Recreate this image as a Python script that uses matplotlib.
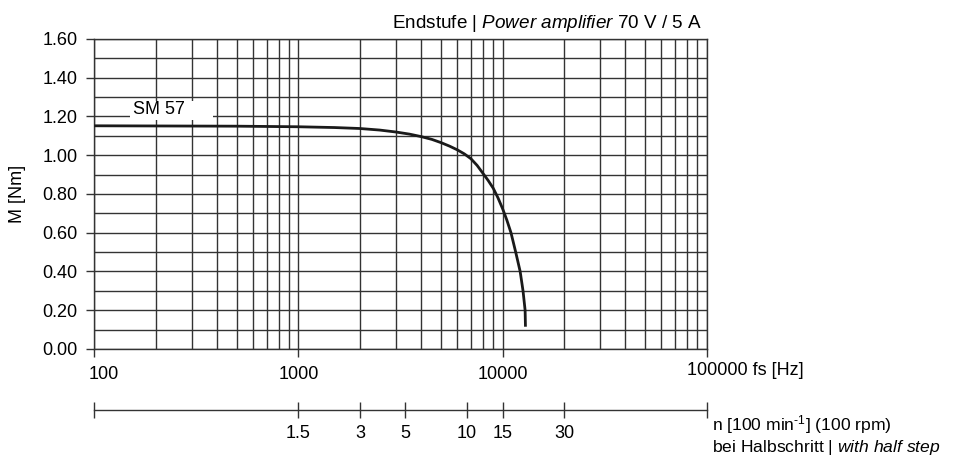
import matplotlib
matplotlib.use("Agg")
import matplotlib.pyplot as plt
import matplotlib.transforms as mtransforms
from matplotlib.patches import Rectangle

plt.rcParams['font.family'] = ['Liberation Sans', 'DejaVu Sans']
plt.rcParams['mathtext.fontset'] = 'custom'
plt.rcParams['mathtext.rm'] = 'Liberation Sans'
plt.rcParams['mathtext.it'] = 'Liberation Sans:italic'

# torque curve SM 57
fs = [100, 500, 1000, 1500, 2000, 2500, 3000, 3500, 4000, 4500, 5000, 5500,
      6000, 6500, 7000, 7500, 8000, 8500, 9000, 9500, 10000, 10500,
      11000, 11600, 12200, 12600, 12900, 12950]
torque = [1.152, 1.150, 1.147, 1.143, 1.138, 1.130, 1.120, 1.109, 1.096, 1.082,
          1.065, 1.047, 1.028, 1.007, 0.982, 0.948, 0.908, 0.870, 0.830, 0.780,
          0.725, 0.665, 0.600, 0.500, 0.400, 0.300, 0.200, 0.115]

x_ticks = [100, 1000, 10000, 100000]
x_labels = ['100', '1000', '10000', '']
y_ticks = [0.0, 0.2, 0.4, 0.6, 0.8, 1.0, 1.2, 1.4, 1.6]
rpm_ticks = [1.5, 3, 5, 10, 15, 30]
rpm_per_hz = 0.0015   # 100 rpm units per Hz at half step

grid_col = '#333333'
fsize = 13

fig = plt.figure(figsize=(9.65, 4.62), dpi=100)
ax = fig.add_axes([0.0977, 0.2446, 0.6346, 0.6710])

ax.set_xscale('log')
ax.set_xlim(100, 100000)
ax.set_ylim(0, 1.6)

ax.set_xticks(x_ticks)
ax.set_xticklabels(x_labels)
ax.set_yticks(y_ticks)
ax.set_yticklabels([f'{v:.2f}' for v in y_ticks])
ax.set_yticks([0.1, 0.3, 0.5, 0.7, 0.9, 1.1, 1.3, 1.5], minor=True)

ax.grid(True, which='both', color=grid_col, linewidth=1.0)
ax.tick_params(which='major', direction='out', length=6, width=1,
               color=grid_col, labelsize=fsize, pad=6)
ax.tick_params(which='minor', length=0)
for s in ax.spines.values():
    s.set_color(grid_col)
    s.set_linewidth(1.0)

# nudge "100" label slightly right like the original
lbl0 = ax.get_xticklabels()[0]
lbl0.set_transform(lbl0.get_transform() +
                   mtransforms.ScaledTranslation(9 / 100, 0, fig.dpi_scale_trans))

ax.plot(fs, torque, color='#1a1a1a', linewidth=2.0, zorder=5,
        solid_capstyle='butt', solid_joinstyle='round')

# label box interrupting the grid
ax.add_patch(Rectangle((150, 1.18), 230, 0.10, facecolor='white',
                       edgecolor='none', zorder=3))
ax.text(155, 1.235, 'SM 57', fontsize=fsize, va='center', ha='left', zorder=4)

ax.set_ylabel('M [Nm]', fontsize=fsize, labelpad=12)

ax.text(0.992, 1.05, r'Endstufe | $\mathit{Power\ amplifier}$ 70 V / 5 A',
        transform=ax.transAxes, ha='right', va='center', fontsize=13.6)

ax.text(0.968, -0.068, '100000 fs [Hz]', transform=ax.transAxes,
        ha='left', va='center', fontsize=fsize)

# rpm scale below the chart
sec = ax.secondary_xaxis(-0.197, functions=(lambda x: x * rpm_per_hz,
                                            lambda x: x / rpm_per_hz))
sec.set_xticks([100 * rpm_per_hz] + rpm_ticks + [100000 * rpm_per_hz])
sec.set_xticklabels([''] + [f'{v:g}' for v in rpm_ticks] + [''])
sec.xaxis.set_minor_locator(matplotlib.ticker.NullLocator())
sec.tick_params(direction='inout', length=12, width=1, color=grid_col,
                labelsize=fsize, pad=5)
sec.spines['bottom'].set_color(grid_col)
sec.spines['bottom'].set_linewidth(1.0)

ax.text(1.008, -0.243, r'n [100 min$^{\text{-1}}$] (100 rpm)',
        transform=ax.transAxes, ha='left', va='center', fontsize=12.6)
ax.text(1.008, -0.318, r'bei Halbschritt | $\mathit{with\ half\ step}$',
        transform=ax.transAxes, ha='left', va='center', fontsize=12.6)

fig.savefig('out.png', dpi=100)
